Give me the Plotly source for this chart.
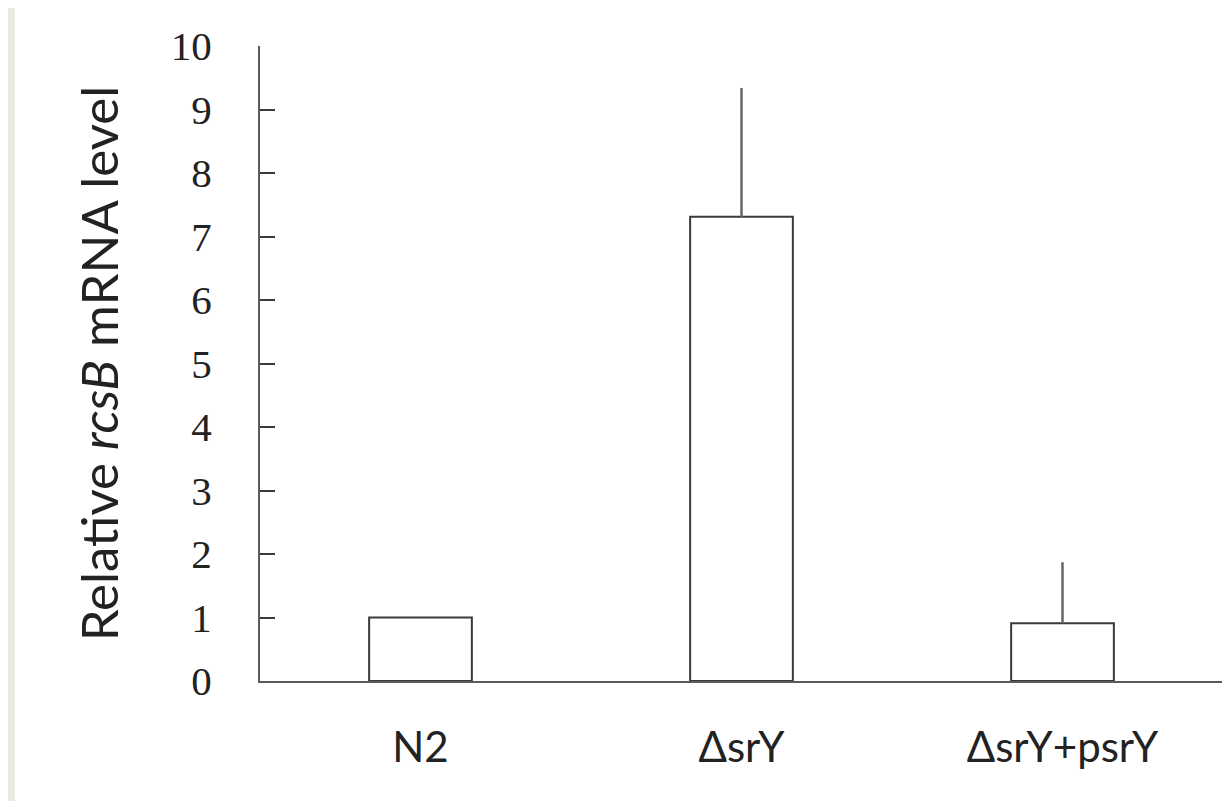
import plotly.graph_objects as go

categories = ["N2", "ΔsrY", "ΔsrY+psrY"]
values = [1.0, 7.31, 0.91]
errors_up = [0.0, 2.03, 0.96]
y_ticks = [0, 1, 2, 3, 4, 5, 6, 7, 8, 9, 10]
y_title = "Relative <i>rcsB</i> mRNA level"

# page has an 8px body margin; size the figure to fit the window
W, H = 1222, 793
L, R, T, B = 252, 7, 38, 120
pw = W - L - R
ph = H - T - B

def px_x(x):
    return (x - L) / pw

def px_y(y):
    return (H - B - y) / ph

fig = go.Figure()
fig.add_trace(go.Bar(
    x=categories,
    y=values,
    marker=dict(color="white", line=dict(color="#3a3a3a", width=2)),
    error_y=dict(type="data", symmetric=False, array=errors_up,
                 arrayminus=[0, 0, 0], width=0, thickness=2.5, color="#666666"),
    width=0.32,
))

fig.add_shape(type="rect", xref="paper", yref="paper",
              x0=px_x(0), x1=px_x(7), y0=px_y(H), y1=px_y(0),
              fillcolor="#EDEAE0", line=dict(width=0), layer="below")

fig.update_layout(
    width=W, height=H,
    margin=dict(l=L, r=R, t=T, b=B),
    paper_bgcolor="white",
    plot_bgcolor="white",
    showlegend=False,
    xaxis=dict(
        showline=True, linecolor="#5a5a5a", linewidth=2,
        ticks="", showgrid=False, zeroline=False,
        tickfont=dict(family="Lato", size=42, color="#222222"),
        ticklabelstandoff=29,
    ),
    yaxis=dict(
        range=[0, 10], tickvals=y_ticks,
        showline=True, linecolor="#5a5a5a", linewidth=2,
        ticks="inside", ticklen=15, tickwidth=2, tickcolor="#3a3a3a",
        showgrid=False, zeroline=False,
        tickfont=dict(family="Liberation Serif", size=41, color="#222222"),
        ticklabelstandoff=38,
        title=dict(text=y_title, font=dict(family="Lato", size=51, color="#222222"),
                   standoff=36),
    ),
)

fig.write_html("out.html")
